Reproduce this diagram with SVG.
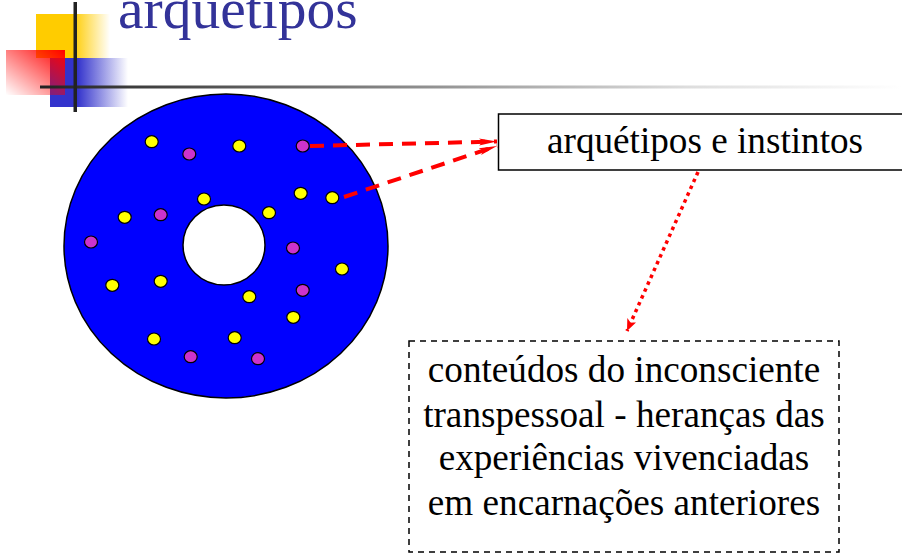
<svg xmlns="http://www.w3.org/2000/svg" width="902" height="553" viewBox="0 0 902 553">
<style>
.ttl{font-family:"Liberation Serif","Times New Roman",serif;font-size:57.5px;fill:#333399}
.lbl{font-family:"Liberation Serif","Times New Roman",serif;font-size:37.2px;fill:#000}
.y{fill:#FFFF00;stroke:#000;stroke-width:1.2}
.m{fill:#CC33CC;stroke:#000;stroke-width:1.2}
.dash{stroke:#FF0000;stroke-width:4;stroke-dasharray:14 9;fill:none}
.dot{stroke:#FF0000;stroke-width:3.5;stroke-dasharray:3.5 4;fill:none}
</style>
<defs>
<linearGradient id="gy" x1="0" y1="0" x2="1" y2="0"><stop offset="0.5" stop-color="#FFCC00"/><stop offset="1" stop-color="#FFCC00" stop-opacity="0"/></linearGradient>
<linearGradient id="gb" x1="0" y1="0" x2="1" y2="0"><stop offset="0.35" stop-color="#3333CC"/><stop offset="1" stop-color="#3333CC" stop-opacity="0"/></linearGradient>
<linearGradient id="gr" x1="1" y1="0" x2="0" y2="1"><stop offset="0" stop-color="#FF0000"/><stop offset="1" stop-color="#FF0000" stop-opacity="0"/></linearGradient>
<linearGradient id="gl" x1="40" y1="0" x2="902" y2="0" gradientUnits="userSpaceOnUse"><stop offset="0" stop-color="#222"/><stop offset="0.35" stop-color="#777"/><stop offset="0.75" stop-color="#ddd"/><stop offset="1" stop-color="#fff"/></linearGradient>
<marker id="ah" viewBox="0 0 18 8" refX="18" refY="4" markerWidth="18" markerHeight="8" markerUnits="userSpaceOnUse" orient="auto"><path d="M0,0.5 L18,4 L0,7.5 L4,4 Z" fill="#FF0000"/></marker>
<marker id="ah2" viewBox="0 0 12 10" refX="12" refY="5" markerWidth="12" markerHeight="10" markerUnits="userSpaceOnUse" orient="auto"><path d="M0,0 L12,5 L0,10 L3,5 Z" fill="#FF0000"/></marker>
</defs>

<g id="decoration">
<rect x="36" y="14" width="74" height="44" fill="url(#gy)"/>
<rect x="50" y="58" width="78" height="49" fill="url(#gb)"/>
<rect x="6" y="50" width="59" height="45" fill="url(#gr)"/>
<rect x="40" y="85.5" width="862" height="3" fill="url(#gl)"/>
<rect x="73.5" y="2" width="3.5" height="110" fill="#222"/>
</g>
<text class="ttl" x="118" y="28">arquetipos</text>

<g id="disc">
<path d="M64,246 A162,152 0 1,0 388,246 A162,152 0 1,0 64,246 Z M183,245 A41,40 0 1,1 265,245 A41,40 0 1,1 183,245 Z" fill="#0000FF" stroke="#000" stroke-width="1.5" fill-rule="evenodd"/>
<g id="dots">
<ellipse class="y" cx="151.7" cy="141.7" rx="6.5" ry="6"/>
<ellipse class="m" cx="189.3" cy="154" rx="6.5" ry="6"/>
<ellipse class="y" cx="239.3" cy="146" rx="6.5" ry="6"/>
<ellipse class="m" cx="302.7" cy="146" rx="6.5" ry="6"/>
<ellipse class="y" cx="204" cy="199" rx="6.5" ry="6"/>
<ellipse class="y" cx="300.7" cy="193.3" rx="6.5" ry="6"/>
<ellipse class="y" cx="332.3" cy="197.7" rx="6.5" ry="6"/>
<ellipse class="y" cx="124.7" cy="217.3" rx="6.5" ry="6"/>
<ellipse class="m" cx="160.7" cy="214.7" rx="6.5" ry="6"/>
<ellipse class="y" cx="269" cy="212.7" rx="6.5" ry="6"/>
<ellipse class="m" cx="91" cy="242" rx="6.5" ry="6"/>
<ellipse class="m" cx="293" cy="248" rx="6.5" ry="6"/>
<ellipse class="y" cx="342" cy="269" rx="6.5" ry="6"/>
<ellipse class="y" cx="112.3" cy="285.3" rx="6.5" ry="6"/>
<ellipse class="y" cx="160.7" cy="281.3" rx="6.5" ry="6"/>
<ellipse class="y" cx="249.3" cy="296.7" rx="6.5" ry="6"/>
<ellipse class="m" cx="302.7" cy="290.3" rx="6.5" ry="6"/>
<ellipse class="y" cx="293.3" cy="317.3" rx="6.5" ry="6"/>
<ellipse class="y" cx="154" cy="339" rx="6.5" ry="6"/>
<ellipse class="y" cx="234.7" cy="337.7" rx="6.5" ry="6"/>
<ellipse class="m" cx="190.7" cy="356.7" rx="6.5" ry="6"/>
<ellipse class="m" cx="258" cy="358.7" rx="6.5" ry="6"/>
</g>
</g>

<g id="box-arquetipos">
<path d="M902,114 H498.5 V170 H902" fill="#fff" stroke="#000" stroke-width="1.5"/>
<text class="lbl" x="547" y="153">arquétipos e instintos</text>
</g>

<g id="box-conteudos">
<rect x="409" y="341" width="430" height="211" fill="#fff" stroke="#000" stroke-width="1.5" stroke-dasharray="6 5"/>
<text class="lbl" text-anchor="middle" x="624" y="382">conteúdos do inconsciente</text>
<text class="lbl" text-anchor="middle" x="624" y="427">transpessoal - heranças das</text>
<text class="lbl" text-anchor="middle" x="624" y="470">experiências vivenciadas</text>
<text class="lbl" text-anchor="middle" x="624" y="515">em encarnações anteriores</text>
</g>

<g id="connectors">
<line class="dash" x1="310" y1="146" x2="497" y2="141.5" marker-end="url(#ah)"/>
<line class="dash" x1="344" y1="197" x2="497" y2="146" marker-end="url(#ah)"/>
<line class="dot" x1="698" y1="172" x2="627" y2="331" marker-end="url(#ah2)"/>
</g>
</svg>
